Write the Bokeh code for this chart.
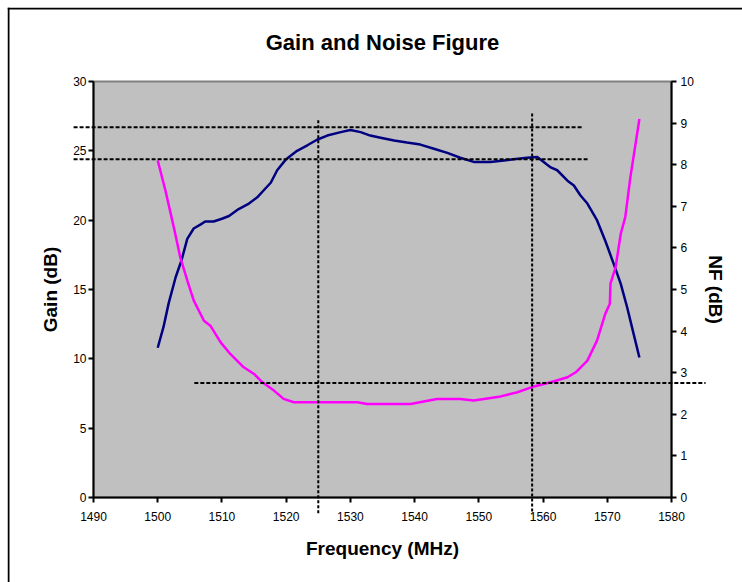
from bokeh.plotting import figure
from bokeh.models import Range1d, LinearAxis, FixedTicker, Label, Span
from bokeh.embed import file_html
from bokeh.resources import INLINE

# ---- data ----
gain_freq = [1500.0, 1500.9, 1501.7, 1502.8, 1503.7, 1504.6, 1505.6, 1506.7, 1507.4, 1508.7,
             1510.0, 1511.1, 1512.6, 1514.2, 1515.5, 1516.8, 1517.6, 1518.6, 1519.9, 1521.7,
             1523.3, 1524.8, 1526.4, 1528.5, 1530.0, 1531.6, 1533.1, 1534.7, 1536.8, 1538.8,
             1540.9, 1543.0, 1545.1, 1547.1, 1549.2, 1551.8, 1553.9, 1555.4, 1557.5, 1559.1,
             1561.2, 1562.2, 1563.8, 1564.8, 1565.8, 1566.9, 1568.4, 1569.7, 1571.0, 1572.1,
             1573.1, 1574.1, 1575.0]
gain_db = [10.8, 12.3, 14.0, 15.9, 17.1, 18.65, 19.4, 19.7, 19.9, 19.9,
           20.1, 20.3, 20.8, 21.2, 21.65, 22.3, 22.7, 23.6, 24.35, 25.0,
           25.4, 25.8, 26.1, 26.35, 26.5, 26.35, 26.1, 25.95, 25.75, 25.6,
           25.45, 25.15, 24.85, 24.5, 24.2, 24.2, 24.3, 24.4, 24.5, 24.55,
           23.8, 23.6, 22.85, 22.5, 21.8, 21.2, 20.0, 18.5, 16.85, 15.4,
           13.7, 11.8, 10.1]

nf_freq = [1500.0, 1501.2, 1502.5, 1503.5, 1504.6, 1505.6, 1507.2, 1508.2, 1509.8, 1511.3,
           1513.4, 1515.0, 1516.3, 1518.1, 1519.6, 1521.2, 1526.9, 1531.1, 1532.6, 1539.4,
           1541.4, 1543.5, 1547.1, 1549.2, 1550.8, 1553.4, 1556.0, 1558.6, 1561.2, 1563.8,
           1565.1, 1566.9, 1568.4, 1569.7, 1570.4, 1570.5, 1571.3, 1572.1, 1572.8, 1573.6,
           1575.0]
nf_db = [8.1, 7.38, 6.5, 5.78, 5.22, 4.74, 4.25, 4.13, 3.73, 3.45,
         3.13, 2.97, 2.77, 2.57, 2.37, 2.29, 2.29, 2.29, 2.25, 2.25,
         2.31, 2.37, 2.37, 2.33, 2.37, 2.43, 2.53, 2.67, 2.77, 2.89,
         3.01, 3.29, 3.77, 4.42, 4.66, 5.14, 5.54, 6.34, 6.74, 7.7,
         9.1]

# dashed reference lines (gain axis): horizontal levels and their extents
gain_ref_levels = [26.7, 24.4]
gain_ref_from = [1486.9, 1486.9]
gain_ref_to = [1566.3, 1567.1]
# dashed reference line (NF axis)
nf_ref_levels = [2.75]
nf_ref_from = [1505.7]
nf_ref_to = [1585.3]
# vertical dashed markers (frequency) with gain extents
freq_markers = [1525.0, 1558.3]
marker_top = [27.2, 27.7]
marker_bottom = [-1.2, -1.2]

x_ticks = [1490, 1500, 1510, 1520, 1530, 1540, 1550, 1560, 1570, 1580]
gain_ticks = [0, 5, 10, 15, 20, 25, 30]
nf_ticks = [0, 1, 2, 3, 4, 5, 6, 7, 8, 9, 10]

FONT = "Liberation Sans"

# ---- layout (canvas pixels) ----
W, H = 742, 582
FRAME_L, FRAME_T = 7, 7              # drawing region starts here
BORDER = 8                           # outer chart border line (top / left)
PA_L, PA_R, PA_T, PA_B = 93, 671, 81, 497   # plot area

x0, x1 = x_ticks[0], x_ticks[-1]
g0, g1 = gain_ticks[0], gain_ticks[-1]
n0, n1 = nf_ticks[0], nf_ticks[-1]

kx = (x1 - x0) / (PA_R - PA_L)
kg = (g1 - g0) / (PA_B - PA_T)
kn = (n1 - n0) / (PA_B - PA_T)

xr = (x0 - (PA_L - FRAME_L) * kx, x1 + (W - PA_R) * kx)
gr = (g0 - (H - PA_B) * kg, g1 + (PA_T - FRAME_T) * kg)
nr = (n0 - (H - PA_B) * kn, n1 + (PA_T - FRAME_T) * kn)

p = figure(width=W, height=H, output_backend="svg", toolbar_location=None,
           x_range=Range1d(*xr), y_range=Range1d(*gr),
           min_border_left=FRAME_L, min_border_top=FRAME_T,
           min_border_right=0, min_border_bottom=0, x_axis_type=None, y_axis_type=None)
p.extra_y_ranges = {"nf": Range1d(*nr)}

p.background_fill_color = "white"
p.border_fill_color = "white"
p.outline_line_color = None
p.xgrid.visible = False
p.ygrid.visible = False

# outer chart border: only its top and left edges fall inside the window
p.add_layout(Span(location=x0 - (PA_L - BORDER) * kx, dimension="height",
                  line_color="black", line_width=2))
p.add_layout(Span(location=g1 + (PA_T - BORDER) * kg, dimension="width",
                  line_color="black", line_width=2))

# plot area
p.quad(left=x0, right=x1, bottom=g0, top=g1, fill_color="#C0C0C0",
       line_color="#808080", line_width=2)

left_axis = LinearAxis(axis_label="Gain (dB)", fixed_location=x0, bounds=(g0, g1),
                       ticker=FixedTicker(ticks=gain_ticks))
right_axis = LinearAxis(y_range_name="nf", axis_label="NF (dB)", fixed_location=x1,
                        bounds=(n0, n1), ticker=FixedTicker(ticks=nf_ticks))
bottom_axis = LinearAxis(axis_label="Frequency (MHz)", fixed_location=g0, bounds=(x0, x1),
                         ticker=FixedTicker(ticks=x_ticks))
p.add_layout(left_axis, "left")
p.add_layout(right_axis, "right")
p.add_layout(bottom_axis, "below")

for ax in [bottom_axis, left_axis, right_axis]:
    ax.axis_line_color = "black"
    ax.axis_line_width = 2
    ax.major_tick_line_color = "black"
    ax.major_tick_line_width = 2
    ax.major_tick_out = 5
    ax.major_tick_in = 0
    ax.minor_tick_line_color = None
    ax.major_label_text_font = FONT
    ax.major_label_text_font_size = "12px"
    ax.major_label_text_color = "black"
    ax.axis_label_text_font = FONT
    ax.axis_label_text_font_size = "19px"
    ax.axis_label_text_font_style = "bold"
    ax.axis_label_text_color = "black"

bottom_axis.major_label_standoff = 9
bottom_axis.axis_label_standoff = 14
left_axis.major_label_standoff = 2
left_axis.axis_label_standoff = 9
right_axis.major_label_standoff = 4
right_axis.axis_label_standoff = 8

# curves
p.line(gain_freq, gain_db, line_color="#000080", line_width=2.5)
p.line(nf_freq, nf_db, line_color="#FF00FF", line_width=2.5, y_range_name="nf")

# dashed reference lines
p.segment(x0=gain_ref_from, x1=gain_ref_to, y0=gain_ref_levels, y1=gain_ref_levels,
          line_color="black", line_width=2, line_dash="4 2")
p.segment(x0=nf_ref_from, x1=nf_ref_to, y0=nf_ref_levels, y1=nf_ref_levels,
          y_range_name="nf", line_color="black", line_width=2, line_dash="4 2")
p.segment(x0=freq_markers, x1=freq_markers, y0=marker_top, y1=marker_bottom,
          line_color="black", line_width=2, line_dash="3 2")

# chart title
title_y = g1 + (PA_T - 42) * kg
p.add_layout(Label(x=(x0 + x1) / 2, y=title_y, text="Gain and Noise Figure",
                   text_align="center", text_baseline="middle", text_font=FONT,
                   text_font_size="22px", text_font_style="bold", text_color="black"))

open("out.html", "w").write(file_html(p, INLINE))
